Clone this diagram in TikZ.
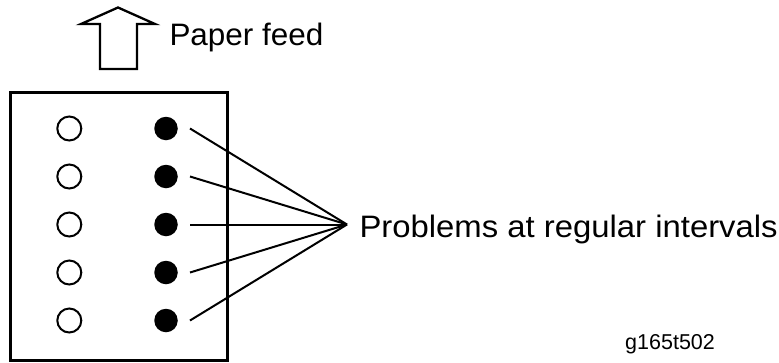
\documentclass[tikz,border=0pt]{standalone}
\usepackage{fontspec}
\setmainfont{Liberation Sans}
\begin{document}
\begin{tikzpicture}[x=1pt,y=-1pt,
  lbl/.style={anchor=base west,inner sep=0pt,font=\fontsize{31}{31}\selectfont},
  small/.style={anchor=base west,inner sep=0pt,font=\fontsize{21.5}{21.5}\selectfont},
  opendot/.style={circle,draw,line width=2pt,minimum size=24pt,inner sep=0pt},
  filldot/.style={circle,fill=black,minimum size=23.5pt,inner sep=0pt},
  ray/.style={line width=2pt}]
\useasboundingbox (0,0) rectangle (779,362);
% paper feed arrow
\draw[line width=2.3pt,line join=miter] (118,7.5) -- (155,24) -- (137,24) -- (137,69) -- (100,69) -- (100,24) -- (81,24) -- cycle;
\node[lbl] (pf) at (169.3,45) {\scalebox{1.015}[1]{Paper feed}};
% sheet
\draw[line width=3pt] (10,92) rectangle (227.5,360.5);
\foreach \i/\y in {1/128.5,2/176.5,3/224.5,4/272.5,5/320.5}{
  \node[opendot] (o\i) at (69.3,\y) {};
  \node[filldot] (f\i) at (166,\y) {};
  \coordinate (s\i) at (190,\y);
}
\coordinate (c) at (347,224.5);
\foreach \i in {1,...,5}{\draw[ray] (s\i) -- (c);}
\node[lbl] (pr) at (359.3,237) {\scalebox{1.06}[1]{Problems at regular intervals}};
\node[small] (id) at (625,349) {g165t502};
\end{tikzpicture}
\end{document}
